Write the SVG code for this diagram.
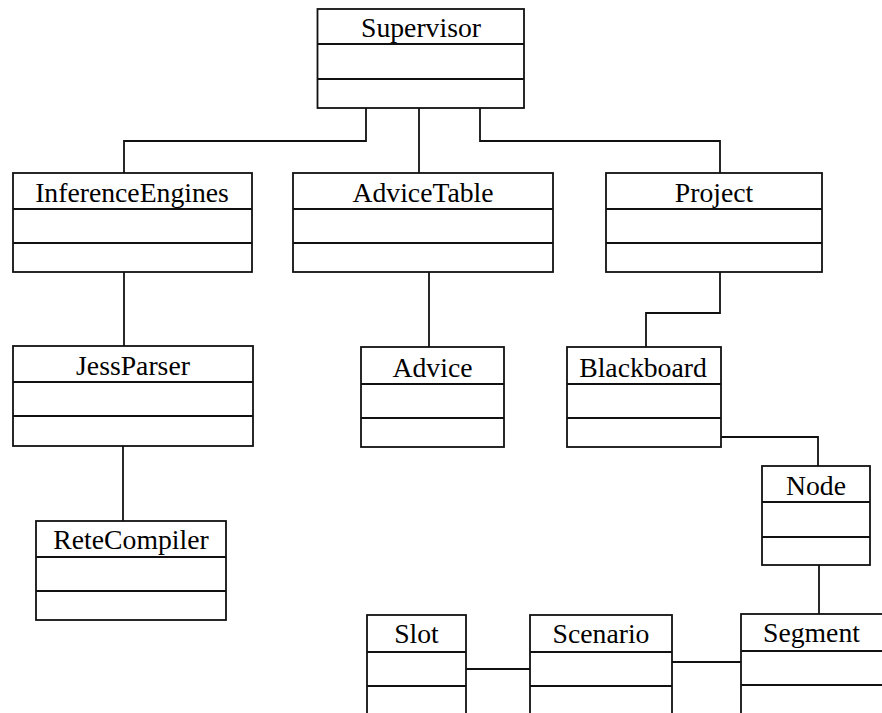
<svg xmlns="http://www.w3.org/2000/svg" width="882" height="713" viewBox="0 0 882 713">
  <style>
    .box { fill: #fff; stroke: #111; stroke-width: 1.8; }
    .sep { stroke: #111; stroke-width: 1.8; }
    .link { fill: none; stroke: #111; stroke-width: 1.8; }
    .name { font-family: "Liberation Serif", "Times New Roman", serif; font-size: 27.7px; fill: #000; text-anchor: middle; }
  </style>
  <rect width="882" height="713" fill="#fff"/>

  <!-- associations -->
  <g id="connectors">
    <polyline class="link" points="366,108 366,141 124,141 124,173"/>
    <line class="link" x1="419" y1="108" x2="419" y2="173"/>
    <polyline class="link" points="480,108 480,141 720,141 720,173"/>
    <line class="link" x1="124" y1="272" x2="124" y2="346"/>
    <line class="link" x1="123" y1="446" x2="123" y2="521"/>
    <line class="link" x1="429" y1="272" x2="429" y2="347"/>
    <polyline class="link" points="720,272 720,313 646,313 646,347"/>
    <polyline class="link" points="721,437 818,437 818,466"/>
    <line class="link" x1="819" y1="565" x2="819" y2="614"/>
    <line class="link" x1="466" y1="669" x2="530" y2="669"/>
    <line class="link" x1="672" y1="662" x2="741" y2="662"/>
  </g>

  <!-- classes -->
  <g id="supervisor">
    <rect class="box" x="317.5" y="9" width="206.5" height="99"/>
    <line class="sep" x1="317.5" y1="44" x2="524" y2="44"/>
    <line class="sep" x1="317.5" y1="79" x2="524" y2="79"/>
    <text class="name" x="421" y="37">Supervisor</text>
  </g>

  <g id="inference-engines">
    <rect class="box" x="13" y="173" width="239" height="99"/>
    <line class="sep" x1="13" y1="209" x2="252" y2="209"/>
    <line class="sep" x1="13" y1="243" x2="252" y2="243"/>
    <text class="name" x="132" y="202">InferenceEngines</text>
  </g>

  <g id="advice-table">
    <rect class="box" x="293" y="173" width="260" height="99"/>
    <line class="sep" x1="293" y1="209" x2="553" y2="209"/>
    <line class="sep" x1="293" y1="243" x2="553" y2="243"/>
    <text class="name" x="423" y="202">AdviceTable</text>
  </g>

  <g id="project">
    <rect class="box" x="606" y="173" width="216" height="99"/>
    <line class="sep" x1="606" y1="209" x2="822" y2="209"/>
    <line class="sep" x1="606" y1="243" x2="822" y2="243"/>
    <text class="name" x="714" y="202">Project</text>
  </g>

  <g id="jess-parser">
    <rect class="box" x="13" y="346" width="240" height="100"/>
    <line class="sep" x1="13" y1="382" x2="253" y2="382"/>
    <line class="sep" x1="13" y1="416" x2="253" y2="416"/>
    <text class="name" x="133" y="375">JessParser</text>
  </g>

  <g id="rete-compiler">
    <rect class="box" x="36" y="521" width="190" height="99"/>
    <line class="sep" x1="36" y1="557" x2="226" y2="557"/>
    <line class="sep" x1="36" y1="591" x2="226" y2="591"/>
    <text class="name" x="131" y="549">ReteCompiler</text>
  </g>

  <g id="advice">
    <rect class="box" x="361" y="347" width="143" height="100"/>
    <line class="sep" x1="361" y1="384" x2="504" y2="384"/>
    <line class="sep" x1="361" y1="418" x2="504" y2="418"/>
    <text class="name" x="432.5" y="377">Advice</text>
  </g>

  <g id="blackboard">
    <rect class="box" x="567" y="347" width="154" height="100"/>
    <line class="sep" x1="567" y1="384" x2="721" y2="384"/>
    <line class="sep" x1="567" y1="418" x2="721" y2="418"/>
    <text class="name" x="643" y="377">Blackboard</text>
  </g>

  <g id="node">
    <rect class="box" x="762" y="466" width="108" height="99"/>
    <line class="sep" x1="762" y1="502" x2="870" y2="502"/>
    <line class="sep" x1="762" y1="537" x2="870" y2="537"/>
    <text class="name" x="816" y="495">Node</text>
  </g>

  <g id="slot">
    <rect class="box" x="367" y="615" width="99" height="110"/>
    <line class="sep" x1="367" y1="652" x2="466" y2="652"/>
    <line class="sep" x1="367" y1="686" x2="466" y2="686"/>
    <text class="name" x="416.5" y="643">Slot</text>
  </g>

  <g id="scenario">
    <rect class="box" x="530" y="615" width="142" height="110"/>
    <line class="sep" x1="530" y1="652" x2="672" y2="652"/>
    <line class="sep" x1="530" y1="686" x2="672" y2="686"/>
    <text class="name" x="601" y="643">Scenario</text>
  </g>

  <g id="segment">
    <rect class="box" x="741" y="614" width="144" height="111"/>
    <line class="sep" x1="741" y1="651" x2="885" y2="651"/>
    <line class="sep" x1="741" y1="685" x2="885" y2="685"/>
    <text class="name" x="811.5" y="642">Segment</text>
  </g>
</svg>
